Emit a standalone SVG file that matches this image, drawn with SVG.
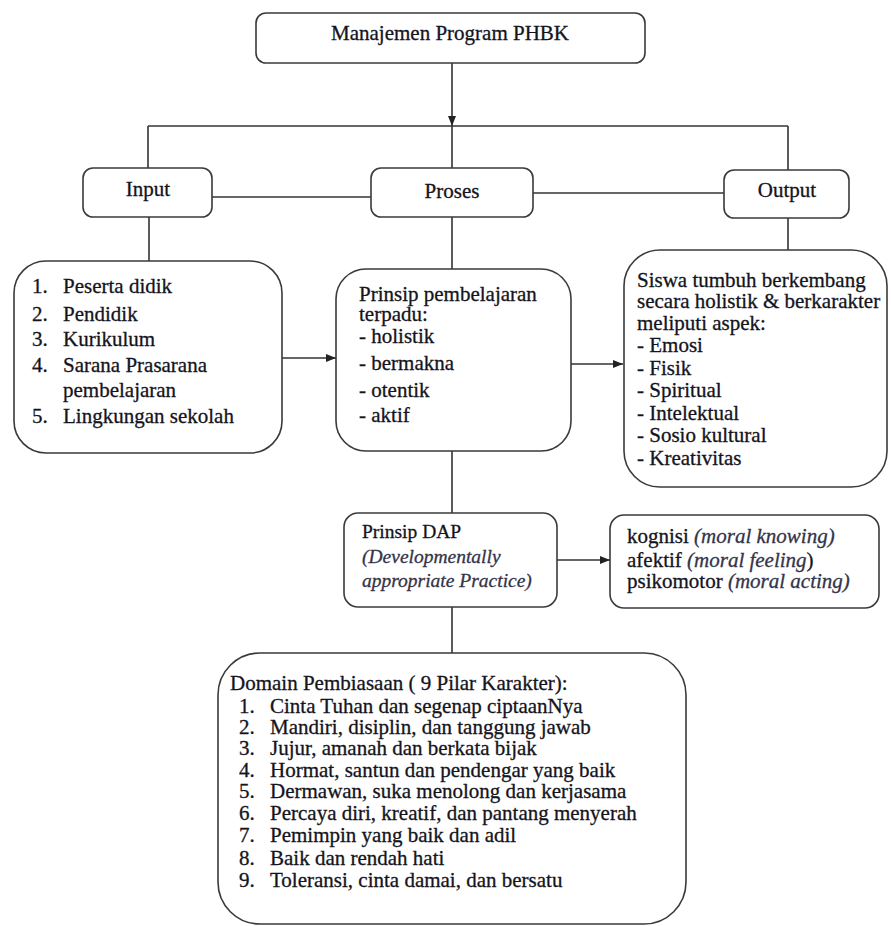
<svg xmlns="http://www.w3.org/2000/svg" width="891" height="926" viewBox="0 0 891 926" font-family="'Liberation Serif', 'Times New Roman', serif">
<style>
.box{fill:#fff;stroke:#3a3a3a;stroke-width:1.6}
.ln{fill:none;stroke:#333;stroke-width:1.6}
.t{font-size:21px;fill:#141420;stroke:#141420;stroke-width:0.3}
.s{font-size:19.5px}
.c{text-anchor:middle}
.i{font-style:italic;fill:#34344a;stroke:#34344a}
</style>
<defs>
<marker id="ah" markerUnits="userSpaceOnUse" markerWidth="10" markerHeight="8" refX="10" refY="4" orient="auto">
<path d="M0,0 L10,4 L0,8 z" fill="#222"/>
</marker>
</defs>
<rect width="891" height="926" fill="#fff"/>
<g id="connectors">
<path class="ln" d="M452,63 V126" marker-end="url(#ah)"/>
<path class="ln" d="M148,126 H788" stroke="#555"/>
<path class="ln" d="M148,126 V168"/>
<path class="ln" d="M452,126 V168"/>
<path class="ln" d="M788,126 V170"/>
<path class="ln" d="M212,197 H371"/>
<path class="ln" d="M533,193 H724"/>
<path class="ln" d="M149,217 V261"/>
<path class="ln" d="M452,217 V269"/>
<path class="ln" d="M788,218 V250"/>
<path class="ln" d="M282,358 H336" marker-end="url(#ah)"/>
<path class="ln" d="M571,364 H623" marker-end="url(#ah)"/>
<path class="ln" d="M452,451 V513"/>
<path class="ln" d="M557,560 H610" marker-end="url(#ah)"/>
<path class="ln" d="M452,607 V653"/>
</g>
<g id="title">
<rect class="box" x="256" y="13" width="389" height="50" rx="10"/>
<text class="t c" x="450" y="40">Manajemen Program PHBK</text>
</g>
<g id="input">
<rect class="box" x="83" y="168" width="129" height="49" rx="10"/>
<text class="t c" x="148" y="196">Input</text>
</g>
<g id="proses">
<rect class="box" x="371" y="168" width="162" height="49" rx="10"/>
<text class="t c" x="452" y="198">Proses</text>
</g>
<g id="output">
<rect class="box" x="724" y="170" width="125" height="48" rx="10"/>
<text class="t c" x="787" y="197">Output</text>
</g>
<g id="input-list">
<rect class="box" x="14" y="261" width="268" height="192" rx="32"/>
<text class="t" x="32" y="293">1.</text><text class="t" x="63" y="293">Peserta didik</text>
<text class="t" x="32" y="321">2.</text><text class="t" x="63" y="321">Pendidik</text>
<text class="t" x="32" y="346">3.</text><text class="t" x="63" y="346">Kurikulum</text>
<text class="t" x="32" y="372">4.</text><text class="t" x="63" y="372">Sarana Prasarana</text>
<text class="t" x="63" y="397">pembelajaran</text>
<text class="t" x="32" y="423">5.</text><text class="t" x="63" y="423">Lingkungan sekolah</text>
</g>
<g id="prinsip">
<rect class="box" x="336" y="269" width="235" height="182" rx="30"/>
<text class="t" x="359" y="301">Prinsip pembelajaran</text>
<text class="t" x="359" y="321">terpadu:</text>
<text class="t" x="359" y="343">- holistik</text>
<text class="t" x="359" y="370">- bermakna</text>
<text class="t" x="359" y="397">- otentik</text>
<text class="t" x="359" y="422">- aktif</text>
</g>
<g id="siswa">
<rect class="box" x="624" y="250" width="263" height="237" rx="36"/>
<text class="t" x="637" y="287">Siswa tumbuh berkembang</text>
<text class="t" x="637" y="308">secara holistik &amp; berkarakter</text>
<text class="t" x="637" y="330">meliputi aspek:</text>
<text class="t" x="637" y="352">- Emosi</text>
<text class="t" x="637" y="375">- Fisik</text>
<text class="t" x="637" y="397">- Spiritual</text>
<text class="t" x="637" y="420">- Intelektual</text>
<text class="t" x="637" y="442">- Sosio kultural</text>
<text class="t" x="637" y="465">- Kreativitas</text>
</g>
<g id="dap">
<rect class="box" x="344" y="513" width="213" height="94" rx="14"/>
<text class="t s" x="362" y="538">Prinsip DAP</text>
<text class="t s i" x="362" y="563">(Developmentally</text>
<text class="t s i" x="362" y="587">appropriate Practice)</text>
</g>
<g id="moral">
<rect class="box" x="610" y="515" width="269" height="93" rx="14"/>
<text class="t" x="627" y="543">kognisi <tspan class="i">(moral knowing)</tspan></text>
<text class="t" x="627" y="567">afektif <tspan class="i">(moral feeling</tspan>)</text>
<text class="t" x="627" y="588">psikomotor <tspan class="i">(moral acting)</tspan></text>
</g>
<g id="domain">
<rect class="box" x="218" y="653" width="468" height="271" rx="42"/>
<text class="t" x="230" y="690">Domain Pembiasaan ( 9 Pilar Karakter):</text>
<text class="t" x="239" y="713">1.</text><text class="t" x="270" y="713">Cinta Tuhan dan segenap ciptaanNya</text>
<text class="t" x="239" y="734">2.</text><text class="t" x="270" y="734">Mandiri, disiplin, dan tanggung jawab</text>
<text class="t" x="239" y="755">3.</text><text class="t" x="270" y="755">Jujur, amanah dan berkata bijak</text>
<text class="t" x="239" y="777">4.</text><text class="t" x="270" y="777">Hormat, santun dan pendengar yang baik</text>
<text class="t" x="239" y="798">5.</text><text class="t" x="270" y="798">Dermawan, suka menolong dan kerjasama</text>
<text class="t" x="239" y="820">6.</text><text class="t" x="270" y="820">Percaya diri, kreatif, dan pantang menyerah</text>
<text class="t" x="239" y="842">7.</text><text class="t" x="270" y="842">Pemimpin yang baik dan adil</text>
<text class="t" x="239" y="865">8.</text><text class="t" x="270" y="865">Baik dan rendah hati</text>
<text class="t" x="239" y="887">9.</text><text class="t" x="270" y="887">Toleransi, cinta damai, dan bersatu</text>
</g>
</svg>
